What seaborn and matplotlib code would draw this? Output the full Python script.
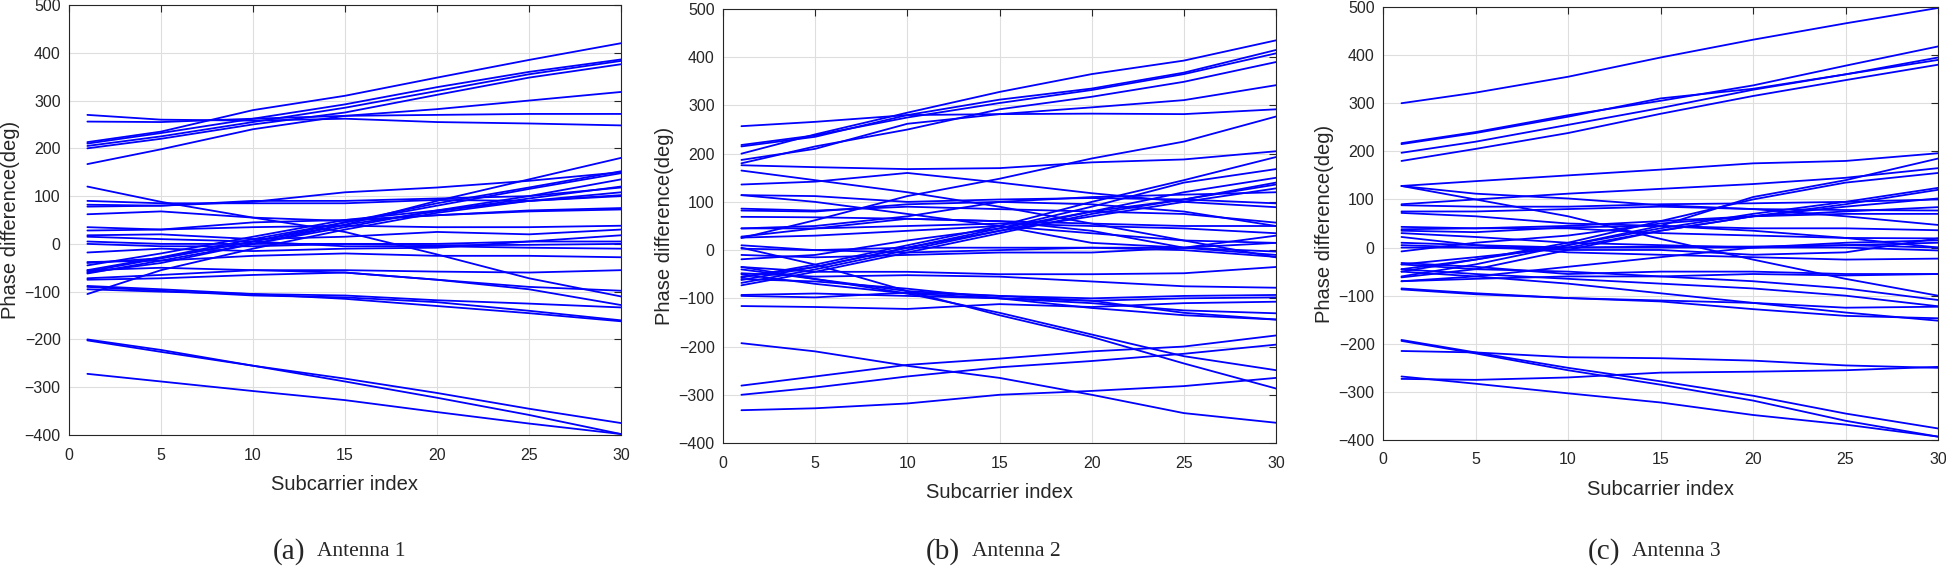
import pandas as pd
import seaborn as sns
import matplotlib.pyplot as plt

subcarrier = [1, 5, 10, 15, 20, 25, 30]

# ---- Antenna 1 ----
ant1_upper = [
    [213, 235, 280, 310, 348, 385, 420],
    [210, 232, 262, 292, 328, 360, 386],
    [205, 225, 255, 285, 320, 355, 383],
    [200, 220, 250, 275, 312, 348, 376],
    [167, 198, 240, 268, 282, 300, 318],
    [256, 255, 262, 268, 270, 272, 272],
    [270, 260, 258, 262, 255, 252, 248],
]
ant1_middle = [
    [120, 88, 55, 25, -22, -72, -110],
    [-62, -35, 0, 40, 90, 135, 180],
    [-58, -30, 5, 45, 85, 118, 152],
    [-55, -28, 10, 45, 80, 115, 148],
    [-60, -40, 0, 35, 70, 100, 135],
    [-40, -30, 5, 40, 68, 95, 120],
    [-45, -20, 15, 50, 70, 90, 108],
    [-105, -55, -10, 30, 65, 90, 100],
    [82, 80, 88, 108, 118, 132, 150],
    [78, 80, 90, 90, 95, 100, 118],
    [90, 85, 85, 85, 92, 90, 102],
    [62, 68, 55, 48, 60, 70, 75],
    [35, 30, 45, 50, 60, 68, 72],
    [28, 30, 35, 38, 35, 35, 38],
    [18, 20, 10, 15, 25, 20, 30],
    [5, 0, 0, 0, 0, 5, 5],
    [0, -5, -5, 0, -3, -2, 0],
    [15, 10, 5, -5, -5, -8, -10],
    [-18, -10, -15, -10, -8, 5, 18],
    [-38, -35, -25, -20, -25, -25, -28],
    [-72, -65, -55, -55, -58, -60, -55],
    [-55, -50, -55, -60, -75, -90, -98],
    [-75, -72, -65, -60, -75, -95, -128],
    [-88, -95, -105, -108, -118, -125, -133],
    [-90, -98, -108, -112, -122, -140, -160],
    [-95, -100, -105, -115, -130, -145, -162],
]
ant1_lower = [
    [-200, -222, -255, -282, -312, -345, -375],
    [-202, -226, -255, -288, -322, -358, -398],
    [-272, -288, -308, -327, -352, -376, -398],
]

# ---- Antenna 2 ----
ant2_upper = [
    [200, 240, 285, 328, 365, 393, 435],
    [215, 235, 280, 312, 335, 368, 415],
    [218, 238, 275, 305, 332, 365, 408],
    [180, 215, 250, 292, 318, 349, 390],
    [187, 210, 262, 282, 296, 311, 342],
    [257, 266, 280, 282, 283, 282, 292],
]
ant2_middle = [
    [176, 172, 168, 170, 182, 188, 205],
    [165, 145, 120, 90, 55, 20, -15],
    [136, 142, 160, 140, 118, 100, 89],
    [114, 112, 100, 105, 108, 105, 97],
    [114, 100, 75, 50, 35, 20, 15],
    [86, 82, 90, 85, 80, 75, 57],
    [82, 80, 95, 100, 95, 80, 50],
    [69, 68, 65, 60, 55, 50, 50],
    [45, 45, 50, 55, 50, 45, 35],
    [28, 45, 65, 60, 40, 5, -10],
    [26, 30, 40, 50, 15, 5, -3],
    [10, 0, 5, 5, 5, 0, -14],
    [3, 0, -5, 0, 5, 5, 15],
    [-10, -15, -10, -5, -5, 5, 30],
    [-19, -10, 20, 45, 80, 105, 136],
    [-35, -45, -45, -50, -50, -48, -35],
    [-48, -55, -52, -55, -65, -75, -78],
    [-57, -30, 10, 50, 100, 145, 193],
    [-62, -35, 5, 45, 90, 140, 168],
    [-68, -40, 0, 40, 80, 120, 150],
    [-73, -45, -5, 35, 75, 105, 140],
    [-55, -35, 5, 40, 70, 100, 128],
    [-93, -90, -95, -100, -110, -125, -131],
    [-95, -98, -88, -95, -105, -130, -144],
    [-116, -118, -122, -112, -118, -110, -107],
    [-60, -65, -80, -100, -120, -135, -144],
    [-40, -60, -85, -95, -100, -95, -93],
    [5, -30, -85, -135, -180, -235, -287],
    [-35, -60, -90, -130, -175, -220, -249],
    [-50, -70, -90, -100, -105, -100, -98],
    [25, 62, 112, 148, 190, 225, 277],
    [45, 50, 70, 100, 110, 115, 120],
]
ant2_lower = [
    [-193, -210, -240, -265, -300, -338, -358],
    [-281, -262, -238, -225, -210, -200, -177],
    [-300, -285, -262, -243, -230, -215, -196],
    [-332, -328, -318, -300, -292, -282, -265],
]

# ---- Antenna 3 ----
ant3_upper = [
    [300, 322, 355, 395, 432, 466, 498],
    [217, 240, 275, 305, 337, 378, 418],
    [215, 238, 272, 310, 330, 360, 395],
    [197, 220, 255, 290, 328, 360, 390],
    [180, 205, 238, 278, 315, 348, 380],
]
ant3_middle = [
    [128, 138, 150, 162, 175, 180, 196],
    [128, 100, 65, 18, -25, -65, -100],
    [128, 112, 102, 88, 80, 65, 47],
    [90, 100, 112, 122, 132, 145, 165],
    [88, 85, 85, 90, 92, 95, 100],
    [75, 75, 80, 85, 80, 78, 77],
    [72, 65, 50, 45, 40, 40, 36],
    [-60, -35, 5, 45, 105, 140, 185],
    [-50, -25, 10, 55, 100, 135, 155],
    [-45, -25, 5, 40, 70, 95, 124],
    [-35, -20, 0, 35, 65, 90, 120],
    [-62, -45, -5, 35, 65, 85, 102],
    [-8, 10, 25, 50, 65, 75, 84],
    [43, 40, 45, 55, 65, 70, 70],
    [38, 40, 40, 30, 25, 20, 19],
    [35, 32, 42, 45, 35, 20, 0],
    [30, 22, 10, 5, 0, 5, 0],
    [22, 5, -10, -15, -20, -25, -23],
    [10, 5, 0, 0, 0, 0, -6],
    [5, 0, 0, 2, 2, 5, 10],
    [0, 0, -5, -5, -15, -10, 19],
    [-32, -40, -55, -50, -50, -55, -55],
    [-35, -45, -50, -60, -70, -85, -109],
    [-50, -60, -75, -95, -115, -125, -123],
    [-70, -65, -60, -60, -55, -58, -55],
    [-85, -95, -105, -110, -115, -135, -152],
    [-87, -97, -105, -112, -128, -142, -147],
    [-45, -55, -65, -75, -85, -100, -122],
    [-70, -60, -40, -20, 0, 10, 15],
]
ant3_lower = [
    [-192, -218, -250, -278, -308, -345, -376],
    [-194, -220, -255, -285, -318, -360, -393],
    [-215, -218, -228, -230, -235, -245, -250],
    [-273, -275, -270, -260, -258, -255, -248],
    [-268, -283, -303, -322, -348, -368, -393],
]

captions = ['(a)', '(b)', '(c)']
antenna_names = ['Antenna 1', 'Antenna 2', 'Antenna 3']
panels = [
    ant1_upper + ant1_middle + ant1_lower,
    ant2_upper + ant2_middle + ant2_lower,
    ant3_upper + ant3_middle + ant3_lower,
]


def to_frame(curves):
    rows = []
    for i, series in enumerate(curves):
        for x, y in zip(subcarrier, series):
            rows.append({'line': i, 'subcarrier': x, 'phase': y})
    return pd.DataFrame(rows)


sns.set_style('white')
plt.rcParams['font.family'] = ['Liberation Sans', 'DejaVu Sans']
serif = ['Liberation Serif', 'DejaVu Serif']

W, H = 1946, 568
fig = plt.figure(figsize=(W / 100, H / 100), dpi=100)
# axes boxes in pixels: left, bottom edge (from top), width, height
rects = [
    (69, 435, 552, 430),
    (723, 443, 553, 434),
    (1383, 440, 555, 433),
]

for k, (curves, (left, bottom, width, height)) in enumerate(zip(panels, rects)):
    ax = fig.add_axes([left / W, (H - bottom) / H, width / W, height / H])
    df = to_frame(curves)
    sns.lineplot(data=df, x='subcarrier', y='phase', units='line',
                 estimator=None, color='#0000ff', linewidth=1.3, ax=ax,
                 legend=False)
    ax.set_xlim(0, 30)
    ax.set_ylim(-400, 500)
    ax.set_xticks(range(0, 31, 5))
    ax.set_yticks(range(-400, 501, 100))
    ax.grid(True, color='#dedede', linewidth=0.8)
    ax.set_axisbelow(True)
    for s in ax.spines.values():
        s.set_color('#262626')
        s.set_linewidth(0.8)
    ax.tick_params(axis='both', direction='in', length=5, width=0.8,
                   top=True, right=True, labelsize=11.5, colors='#262626')
    ax.tick_params(axis='x', pad=9)
    ax.tick_params(axis='y', pad=6)
    ax.set_xlabel('Subcarrier index', fontsize=14.5, labelpad=9)
    ax.set_ylabel('Phase difference(deg)', fontsize=14.5, labelpad=3)

    cx = left + width / 2
    fig.text((cx - 40) / W, 0.029, captions[k], ha='right', va='center',
             fontsize=21, family=serif)
    fig.text((cx - 28) / W, 0.029, antenna_names[k], ha='left', va='center',
             fontsize=15.5, family=serif)

fig.savefig('out.png', dpi=100)
